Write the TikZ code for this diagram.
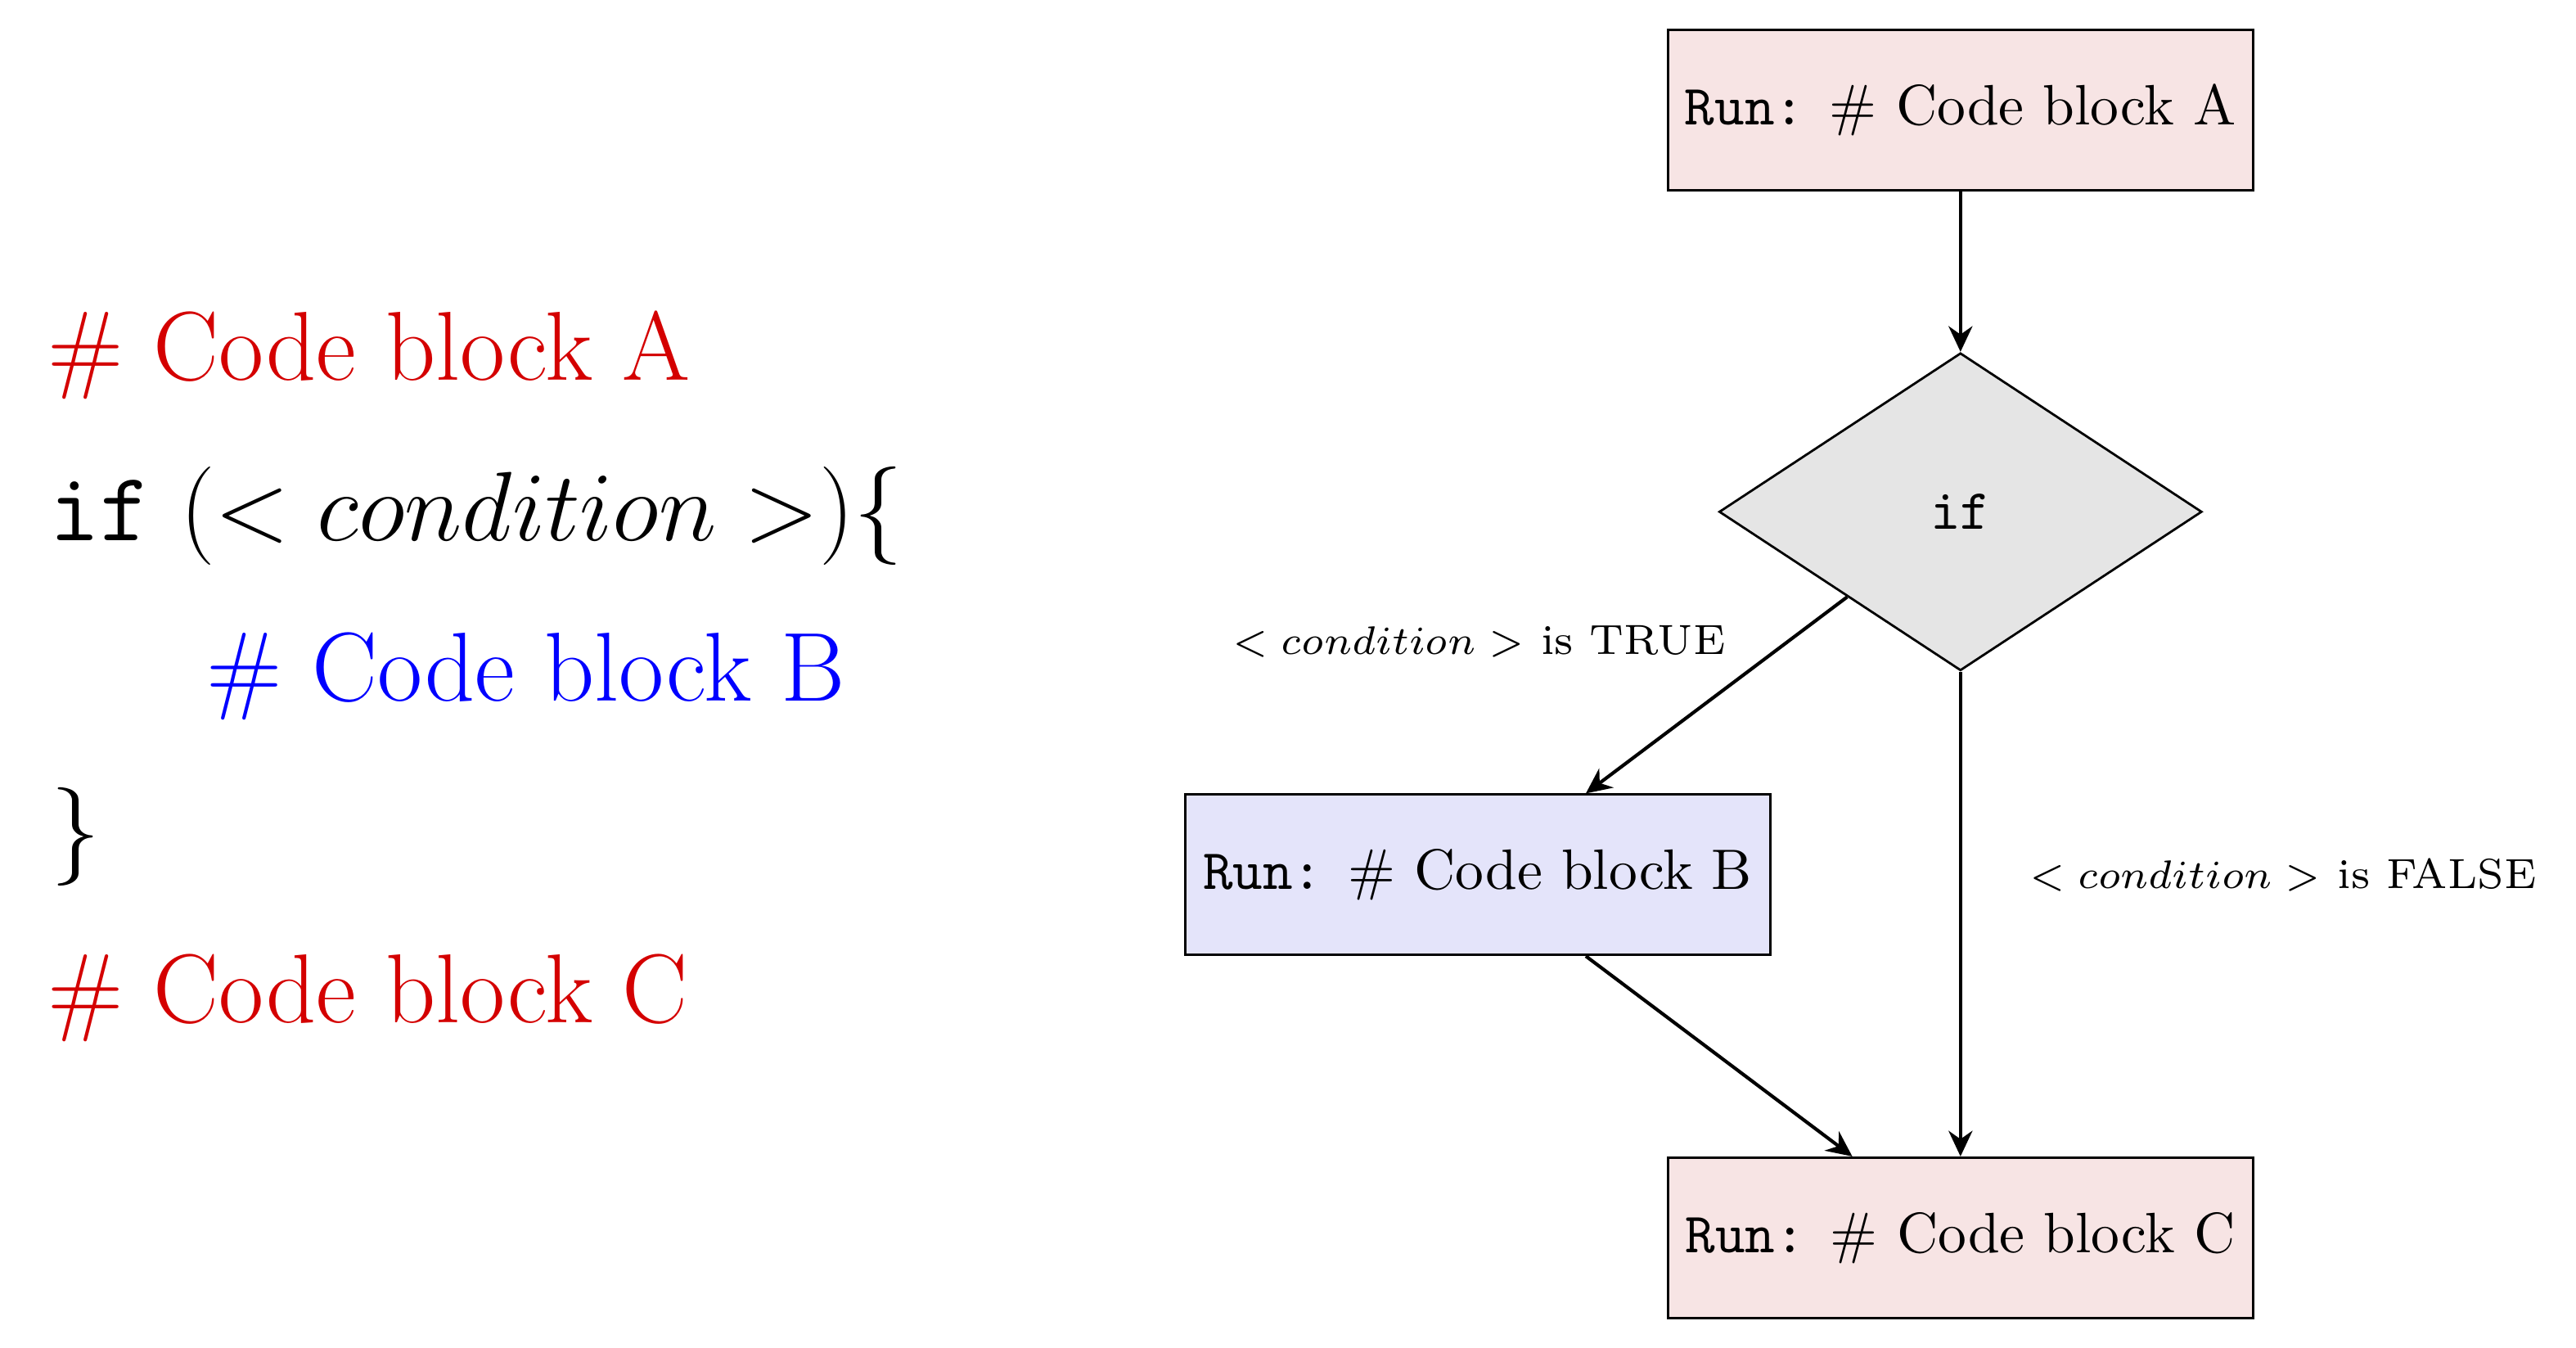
\documentclass[tikz,border=0pt]{standalone}
\usetikzlibrary{shapes.geometric, arrows.meta}
\definecolor{rojocodigo}{HTML}{D40000}
\definecolor{azulcodigo}{HTML}{0000FF}
\definecolor{rosabloque}{HTML}{F7E4E4}
\definecolor{azulbloque}{HTML}{E4E4FA}
\tikzset{
  % Bloques de código del diagrama (A, B, C)
  bloque/.style   = {draw, line width=0.4pt, minimum width=3.61cm,
                     minimum height=0.99cm, inner sep=2pt},
  % La pregunta del if
  decision/.style = {diamond, draw, line width=0.4pt, fill=gray!20,
                     minimum width=2.98cm, minimum height=1.96cm, inner sep=0pt},
  % Flujo de ejecución
  flecha/.style   = {line width=0.6pt, -{Stealth[length=4.5pt, width=4.2pt]}},
  % Rótulos de las ramas
  rama/.style     = {font=\fontsize{7.4}{9}\selectfont},
  % Pseudocódigo de la izquierda
  codigo/.style   = {anchor=base west, inner sep=0pt,
                     font=\fontsize{17.2}{20}\selectfont},
}

\begin{document}
\begin{tikzpicture}
  \useasboundingbox (0,0) rectangle (15.899,8.318);

  % ============================================================
  % Pseudocódigo
  % ============================================================
  \node[codigo, text=rojocodigo] (lineaA)  at (0.29,5.97) {\# Code block A};
  \node[codigo]                  (lineaIf) at (0.30,4.98) {\texttt{if} $(<condition>)\{$};
  \node[codigo, text=azulcodigo] (lineaB)  at (1.27,3.99) {\# Code block B};
  \node[codigo]                  (cierre)  at (0.31,3.00) {$\}$};
  \node[codigo, text=rojocodigo] (lineaC)  at (0.29,2.01) {\# Code block C};

  % ============================================================
  % Diagrama de flujo
  % ============================================================
  \node[bloque, fill=rosabloque] (A)  at (12.10,7.64) {\texttt{Run:} \# Code block A};
  \node[decision]                (if) at (12.10,5.16) {\texttt{if}};
  \node[bloque, fill=azulbloque] (B)  at (9.12,2.92)  {\texttt{Run:} \# Code block B};
  \node[bloque, fill=rosabloque] (C)  at (12.10,0.68) {\texttt{Run:} \# Code block C};

  \draw[flecha] (A)  -- (if);
  \draw[flecha] (if) -- (B);
  \draw[flecha] (B)  -- (C);
  \draw[flecha] (if) -- (C);

  \node[rama] (verdad) at (9.13,4.36)  {$<condition>$ is TRUE};
  \node[rama] (falso)  at (14.09,2.92) {$<condition>$ is FALSE};

\end{tikzpicture}
\end{document}
